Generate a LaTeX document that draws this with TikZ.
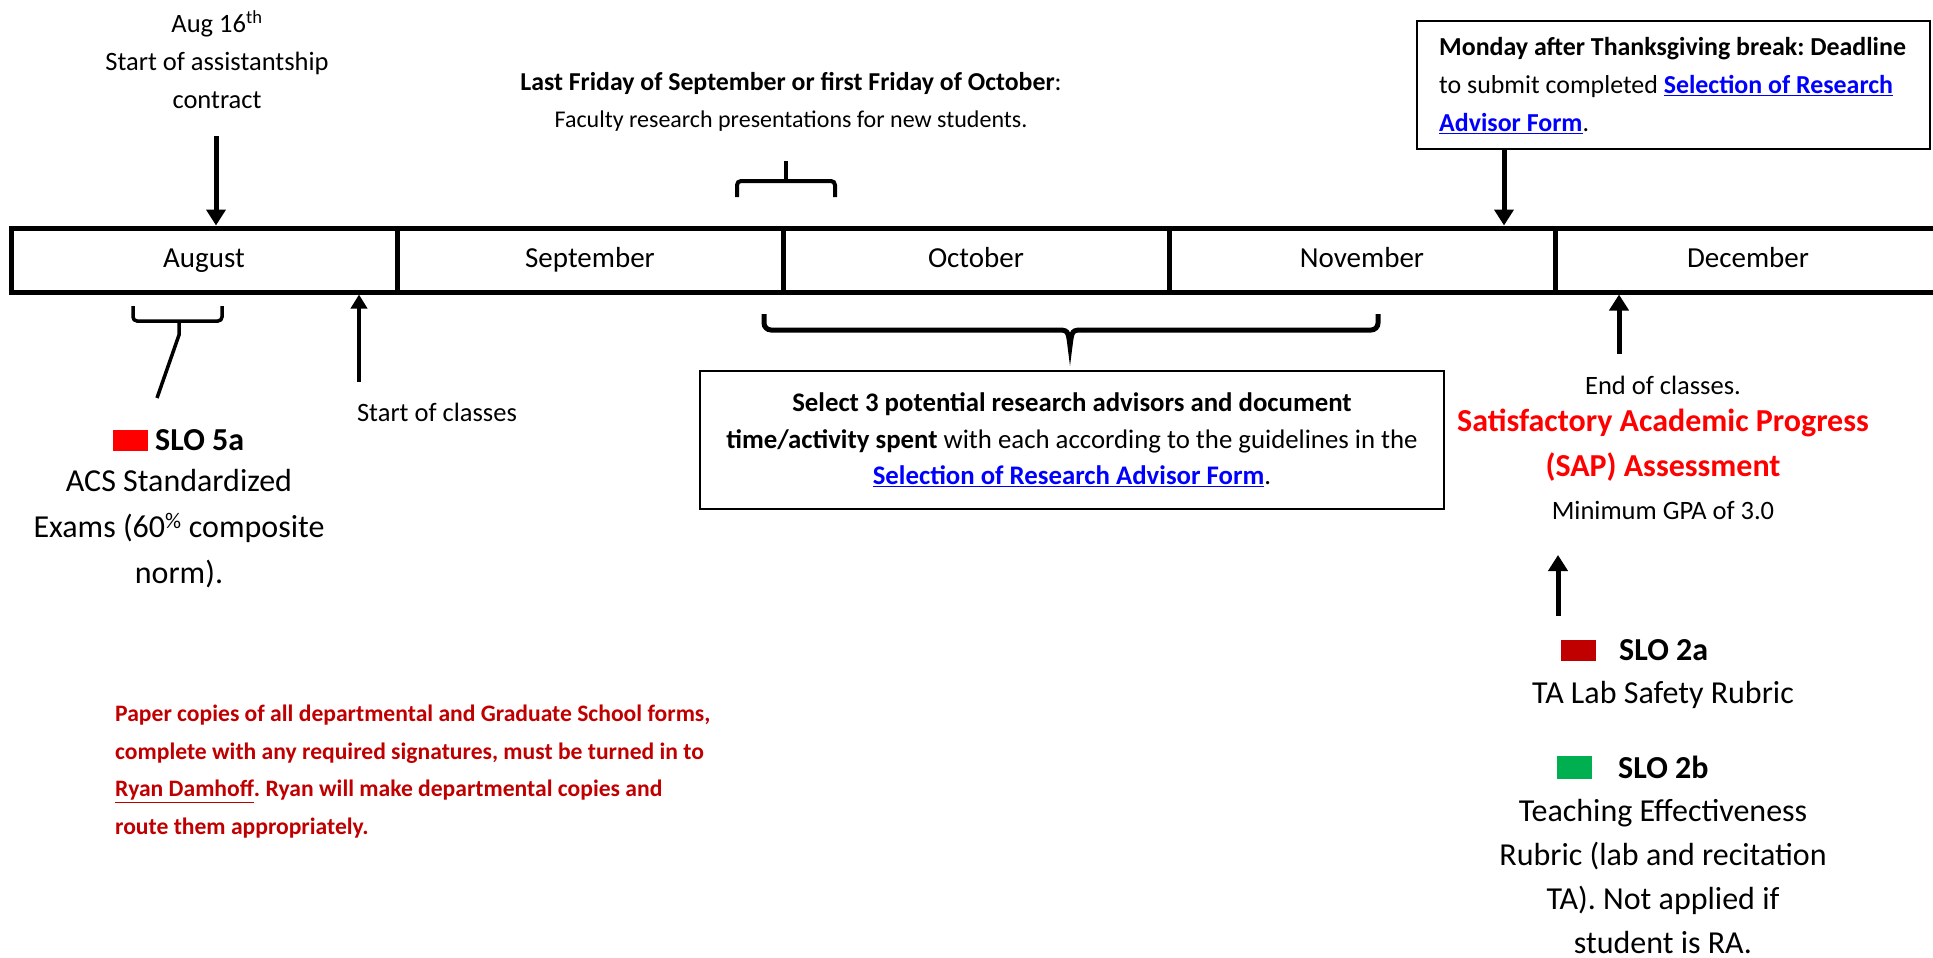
\documentclass[tikz,border=0pt]{standalone}
\usepackage{fontspec}
\setmainfont{Carlito}
\usetikzlibrary{arrows.meta}
\frenchspacing
\definecolor{linkblue}{HTML}{0000FF}
\definecolor{darkred}{HTML}{C00000}
\definecolor{brightred}{HTML}{FF0000}
\definecolor{slogreen}{HTML}{00B050}
\newcommand{\fsz}[2]{\fontsize{#1}{#2}\selectfont}
\newcommand{\lnk}[1]{\textcolor{linkblue}{\textbf{\underline{#1}}}}
\tikzset{
  monthbox/.style={draw,line width=5pt,minimum width=386pt,minimum height=64pt,inner sep=0pt,text height=20pt,text depth=6pt,font=\fsz{29}{34}},
  arr/.style={line width=5pt,-{Triangle[width=19pt,length=16pt]}},
  thinarr/.style={line width=4pt,-{Triangle[width=16pt,length=14pt]}},
  brk/.style={line width=4pt,rounded corners=4pt},
  txt/.style={inner sep=0pt,align=center,font=\fsz{26.5}{38}},
  bigtxt/.style={inner sep=0pt,align=center,font=\fsz{32}{46}},
  sq/.style={inner sep=0pt,minimum width=35pt,minimum height=21pt},
  infobox/.style={draw,line width=2pt,inner sep=0pt}
}
\begin{document}
\begin{tikzpicture}[x=1pt,y=-1pt]
\useasboundingbox (0,0) rectangle (1933,958);
\clip (0,0) rectangle (1933,958);

% timeline
\node[monthbox] (aug) at (204,260) {August};
\node[monthbox] (sep) at (590,260) {September};
\node[monthbox] (oct) at (976,260) {October};
\node[monthbox] (nov) at (1362,260) {November};
\node[monthbox] (dec) at (1748,260) {December};

% Aug 16
\node[txt] (aug16) at (217,60) {Aug 16\textsuperscript{th}\\Start of assistantship\\contract};
\coordinate (aug16s) at (216,136);
\draw[arr] (aug16s) -- (aug.north -| aug16s);

% Faculty presentations
\node[txt,font=\fsz{24}{37}] (fac) at (791,101.5) {{\fsz{25.8}{37}\textbf{Last Friday of September or first Friday of October}:}\\Faculty research presentations for new students.};
\coordinate (facl) at (737,197);
\coordinate (facr) at (835,197);
\coordinate (facm) at (786,181);
\coordinate (fact) at (786,161);
\draw[brk] (facl) -- (facl |- facm) -- (facr |- facm) -- (facr);
\draw[line width=4pt] (facm) -- (fact);

% Monday box
\node[infobox,anchor=north west,minimum width=513pt,minimum height=128pt] (mon) at (1416,20) {};
\node[inner sep=0pt,anchor=west,align=left,font=\fsz{25.9}{38}] (montxt) at (1439,86)
 {\textbf{Monday after Thanksgiving break: Deadline}\\to submit completed \lnk{Selection of Research}\\\lnk{Advisor Form}.};
\coordinate (mona) at (1504,148);
\draw[arr] (mona) -- (nov.north -| mona);

% Aug bracket below
\coordinate (abl) at (133,306);
\coordinate (abr) at (222,306);
\coordinate (abm) at (179,321);
\coordinate (abk) at (179,335);
\coordinate (abe) at (157,398);
\draw[brk,line width=3.5pt] (abl) -- (abl |- abm) -- (abr |- abm) -- (abr);
\draw[line width=3.5pt] (abm) -- (abk) -- (abe);

% SLO 5a
\node[sq,fill=brightred] (sq5a) at (130.5,440) {};
\node[bigtxt,anchor=west] (slo5a) at (155,440) {\textbf{SLO 5a}};
\node[bigtxt] (acs) at (179,529) {ACS Standardized\\Exams (60\textsuperscript{\%} composite\\norm).};

% Start of classes
\coordinate (soc) at (359,382);
\draw[thinarr] (soc) -- (aug.south -| soc);
\node[txt] (soct) at (437,412) {Start of classes};

% big brace
\coordinate (bl) at (764,314);
\coordinate (br) at (1378,314);
\coordinate (bt) at (1070,346);
\draw[line width=5pt,rounded corners=7pt] (bl) -- (764,330) -- (1056,330);
\draw[line width=5pt] (1056,330) .. controls (1068,330) .. (bt) .. controls (1072,330) .. (1084,330);
\draw[line width=5pt,rounded corners=7pt] (1084,330) -- (1378,330) -- (br);

% Select box
\node[infobox,minimum width=744pt,minimum height=138pt,align=center,font=\fsz{26.8}{36.5}] (sel) at (1072,440)
 {\textbf{Select 3 potential research advisors and document}\\\textbf{time/activity spent} with each according to the guidelines in the\\\lnk{Selection of Research Advisor Form}.};

% End of classes / SAP
\coordinate (eoc) at (1619,354);
\draw[arr] (eoc) -- (dec.south -| eoc);
\node[txt] (eoct) at (1663,385) {End of classes.};
\node[bigtxt,text=brightred,font=\bfseries\fsz{32}{45}] (sap) at (1663,445.5) {Satisfactory Academic Progress\\(SAP) Assessment};
\node[txt] (gpa) at (1663,510) {Minimum GPA of 3.0};

% SLO 2a/2b
\coordinate (la) at (1558,616);
\coordinate (lb) at (1558,555);
\draw[arr] (la) -- (lb);
\node[sq,fill=darkred] (sq2a) at (1578,650) {};
\node[bigtxt,anchor=west] (slo2a) at (1619,650) {\textbf{SLO 2a}};
\node[bigtxt] (ta) at (1663,695) {TA Lab Safety Rubric};
\node[sq,fill=slogreen,minimum height=23pt] (sq2b) at (1574,767.5) {};
\node[bigtxt,anchor=west] (slo2b) at (1618,767) {\textbf{SLO 2b}};
\node[bigtxt,font=\fsz{32}{44}] (teach) at (1663,877) {Teaching Effectiveness\\Rubric (lab and recitation\\TA). Not applied if\\student is RA.};

% Paper copies note
\node[inner sep=0pt,anchor=west,align=left,text=darkred,font=\bfseries\fsz{23.6}{37.7}] (paper) at (115,771.5)
 {Paper copies of all departmental and Graduate School forms,\\complete with any required signatures, must be turned in to\\\underline{Ryan Damhoff}. Ryan will make departmental copies and\\route them appropriately.};
\end{tikzpicture}
\end{document}
